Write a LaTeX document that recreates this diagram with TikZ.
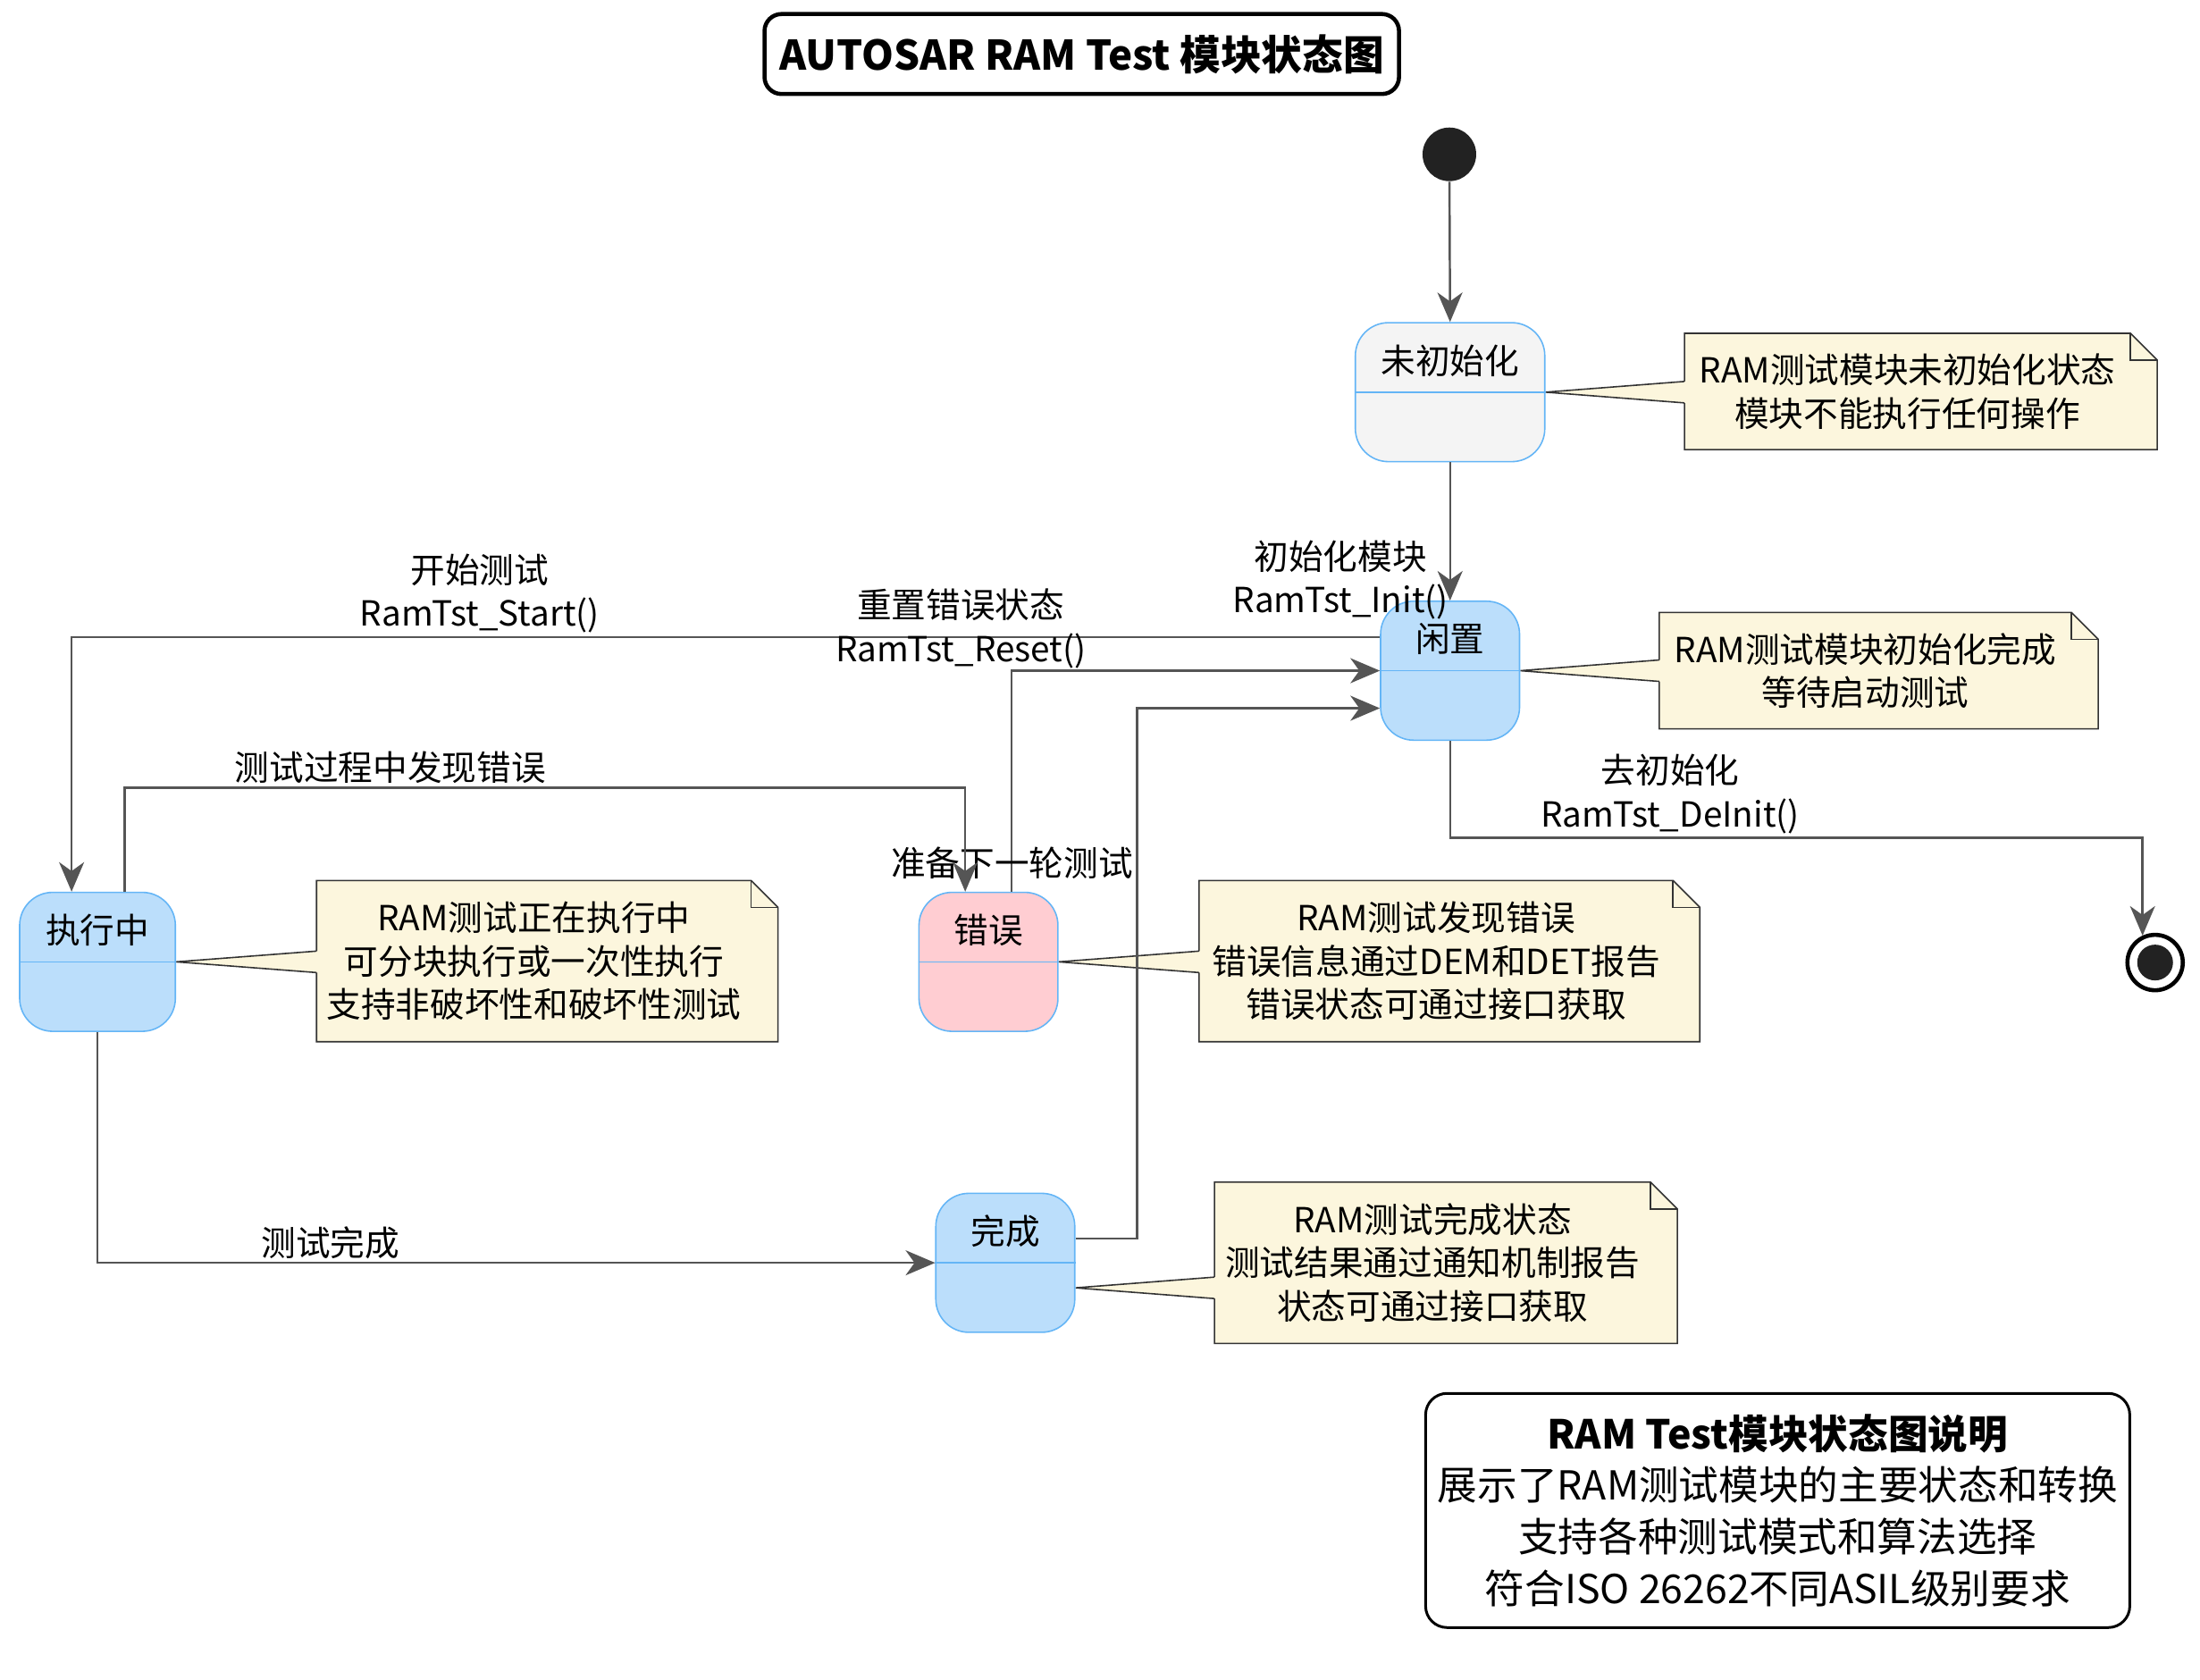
\documentclass[tikz,border=0pt]{standalone}
\usepackage{fontspec}
\setmainfont{Noto Sans CJK SC}
\usetikzlibrary{arrows.meta, backgrounds}
\definecolor{stateline}{HTML}{64B5F6}
\definecolor{idlefill}{HTML}{BBDEFB}
\definecolor{errfill}{HTML}{FFCDD2}
\definecolor{offfill}{HTML}{F4F4F4}
\definecolor{notefill}{HTML}{FCF6DD}
\definecolor{arrowgray}{HTML}{555555}
\definecolor{dotfill}{HTML}{222222}
\tikzset{statebox/.style={draw=stateline,line width=0.45pt,rounded corners=0.37cm,
             minimum width=1.555cm,inner sep=0pt,text height=0.57cm,text depth=0.985cm,
             font=\fontsize{11}{13.8}\selectfont},
         notebox/.style={align=center,inner sep=0pt,font=\fontsize{11}{13.8}\selectfont},
         noteline/.style={draw=black!80,line width=0.45pt,fill=notefill},
         trans/.style={draw=arrowgray,line width=0.7pt,
             -{Stealth[length=0.33cm,width=0.28cm,inset=0.1cm]}},
         tlabel/.style={align=center,inner sep=1pt,font=\fontsize{11}{13.8}\selectfont}}
\newcommand{\foldnote}[1]{%
  \filldraw[noteline] (#1.south west) -- (#1.north west) -- (#1.north east)
    -- ([shift={(0.3cm,-0.3cm)}]#1.north east) -- ([xshift=0.3cm]#1.south east) -- cycle;
  \draw[noteline,fill=none] (#1.north east) |- ([shift={(0.3cm,-0.3cm)}]#1.north east);}
\newcommand{\notelink}[2]{%
  \coordinate (nb) at (#1.west |- #2);
  \fill[notefill] ([shift={(0.06cm,0.12cm)}]nb) -- ([yshift=0.12cm]nb) -- (#2)
    -- ([yshift=-0.12cm]nb) -- ([shift={(0.06cm,-0.12cm)}]nb) -- cycle;
  \draw[noteline,fill=none] ([yshift=0.12cm]nb) -- (#2) -- ([yshift=-0.12cm]nb);}

\begin{document}
\begin{tikzpicture}[x=0.015702cm,y=-0.015702cm]
        \useasboundingbox (0,0) rectangle (1568,1197);

        \node[draw,line width=1.3pt,rounded corners=0.19cm,minimum width=7.1cm,minimum height=0.895cm,inner sep=2pt,
              font=\bfseries\fontsize{13}{16}\selectfont](title)at(771,38.5){AUTOSAR RAM Test 模块状态图};

        \node[circle,fill=dotfill,minimum size=0.6cm,inner sep=0pt](init)at(1033,110){};
        \node[statebox,fill=offfill,minimum width=2.12cm](uninit)at(1033.5,279.5){未初始化};
        \node[statebox,fill=idlefill](idle)at(1033.5,478){闲置};
        \node[statebox,fill=idlefill,minimum width=1.743cm](running)at(69.5,685.5){执行中};
        \node[statebox,fill=errfill](error)at(704.5,685.5){错误};
        \node[statebox,fill=idlefill](done)at(716.5,900){完成};
        \node[circle,draw=black,line width=1.3pt,fill=white,minimum size=0.62cm,inner sep=0pt](final)at(1536,686){};
        \fill[dotfill] (final) circle (0.2cm);

        \foreach \s in {uninit,idle,running,error,done}
            \draw[stateline,line width=0.45pt] (\s.west) -- (\s.east);

        \node[notebox,minimum width=4.976cm,minimum height=1.288cm](n1)at(1359.5,279)
            {RAM测试模块未初始化状态\\模块不能执行任何操作};
        \node[notebox,minimum width=4.599cm,minimum height=1.288cm](n2)at(1329.5,478)
            {RAM测试模块初始化完成\\等待启动测试};
        \node[notebox,minimum width=4.85cm,minimum height=1.79cm](n3)at(380.5,685)
            {RAM测试正在执行中\\可分块执行或一次性执行\\支持非破坏性和破坏性测试};
        \node[notebox,minimum width=5.29cm,minimum height=1.79cm](n4)at(1023.5,685)
            {RAM测试发现错误\\错误信息通过DEM和DET报告\\错误状态可通过接口获取};
        \node[notebox,minimum width=4.866cm,minimum height=1.79cm](n5)at(1021,900)
            {RAM测试完成状态\\测试结果通过通知机制报告\\状态可通过接口获取};
        \coordinate (donetip) at ([yshift=-0.28cm]done.east);

        \begin{scope}[on background layer]
            \foreach \n in {n1,n2,n3,n4,n5} {\foldnote{\n}}
            \notelink{n1}{uninit.east}
            \notelink{n2}{idle.east}
            \notelink{n3}{running.east}
            \notelink{n4}{error.east}
            \notelink{n5}{donetip}
        \end{scope}

        \draw[trans] (init) -- (uninit.north);
        \draw[trans] (uninit) -- node[tlabel,pos=0.85,anchor=east,xshift=0.8pt]{初始化模块\\RamTst\_Init()} (idle);
        \draw[trans] ([yshift=0.377cm]idle.west) -| node[tlabel,pos=0.344,anchor=south]{开始测试\\RamTst\_Start()}
            ([xshift=-0.29cm]running.north);
        \draw[trans] ([xshift=0.26cm]error.north) |- node[tlabel,pos=0.5,xshift=-0.57cm,yshift=0.47cm]{重置错误状态\\RamTst\_Reset()}
            (idle.west);
        \draw[trans] ([yshift=0.27cm]done.east) -- ++(44,0) |- node[tlabel,pos=0.354,anchor=east]{准备下一轮测试}
            ([yshift=-0.42cm]idle.west);
        \draw[trans] ([xshift=0.306cm]running.north) -- ++(0,-74) -| node[tlabel,pos=0.158,anchor=south]{测试过程中发现错误}
            ([xshift=-0.26cm]error.north);
        \draw[trans] (running.south) |- node[tlabel,pos=0.639,anchor=south]{测试完成} (done.west);
        \draw[trans] (idle.south) -- ++(0,69) -| node[tlabel,pos=0.159,anchor=south]{去初始化\\RamTst\_DeInit()} (final.115);

        \node[draw,line width=0.85pt,rounded corners=0.24cm,minimum width=7.88cm,minimum height=2.62cm,align=center,
              font=\fontsize{12.7}{16.4}\selectfont](legend)at(1267,1076.5)
            {\textbf{RAM Test模块状态图说明}\\展示了RAM测试模块的主要状态和转换\\支持各种测试模式和算法选择\\符合ISO 26262不同ASIL级别要求};
\end{tikzpicture}
\end{document}
